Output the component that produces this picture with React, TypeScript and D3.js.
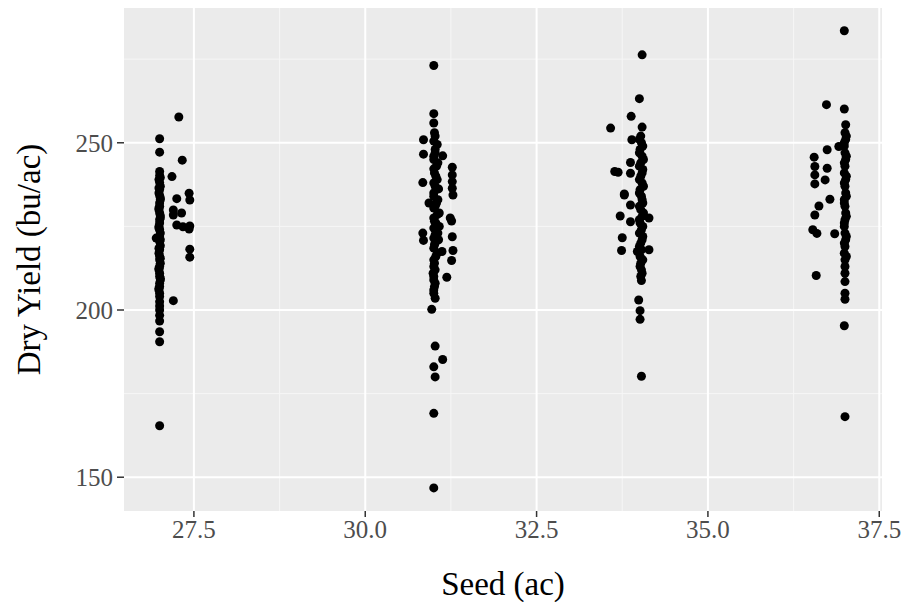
import { scaleLinear, range } from "d3";

// seed rate (x) and dry yield (y), one list per seed block
const block27: [number, number][] = [
  [27.0, 251.2], [27.0, 247.2], [27.0, 241.4], [27.0, 240.2], [26.99, 239.0],
  [27.0, 238.1], [27.01, 237.0], [27.0, 236.0], [26.99, 235.0], [27.0, 234.2],
  [27.01, 233.0], [27.0, 232.0], [27.0, 231.0], [26.99, 230.0], [27.0, 229.0],
  [27.01, 228.2], [27.0, 227.0], [27.0, 226.0], [26.99, 225.0], [27.0, 224.0],
  [27.01, 223.0], [27.0, 222.1], [26.95, 221.5], [27.0, 220.5], [27.01, 219.2],
  [27.0, 218.0], [26.99, 217.0], [27.0, 216.0], [27.0, 215.0], [27.01, 214.0],
  [27.0, 213.0], [26.99, 212.0], [27.0, 211.0], [27.0, 210.0], [27.01, 209.0],
  [27.0, 208.0], [27.0, 207.0], [26.99, 206.0], [27.0, 205.0], [27.0, 204.0],
  [27.01, 239.6], [26.99, 236.5], [27.01, 233.5], [26.99, 230.5], [27.01, 227.5],
  [26.99, 224.5], [27.01, 221.0], [26.99, 218.5], [27.01, 215.5], [26.99, 212.5],
  [27.01, 209.5], [26.99, 206.5], [27.0, 202.5], [27.0, 200.0],
  [27.0, 201.2], [27.0, 198.4], [27.0, 196.7], [27.0, 193.5], [27.0, 190.5],
  [27.0, 165.4],
  [27.28, 257.7], [27.33, 244.8], [27.18, 239.9], [27.25, 233.3], [27.43, 234.9],
  [27.44, 232.9], [27.2, 229.9], [27.32, 229.0], [27.2, 228.4], [27.25, 225.4],
  [27.34, 224.9], [27.44, 225.1], [27.43, 224.2], [27.44, 218.2], [27.44, 215.8],
  [27.2, 202.8],
];

const block31: [number, number][] = [
  [31.0, 273.1], [31.0, 258.7], [31.0, 255.9], [31.01, 253.0], [31.0, 250.5],
  [31.02, 248.0], [31.0, 246.0], [31.06, 244.0], [31.0, 242.2], [31.03, 240.0],
  [31.0, 238.0], [31.07, 236.2], [31.0, 234.0], [31.04, 232.0], [31.0, 230.5],
  [31.08, 229.0], [31.0, 227.5], [31.03, 226.0], [31.0, 224.5], [31.06, 223.0],
  [31.0, 221.5], [31.02, 220.0], [31.0, 218.5], [31.05, 217.0], [31.0, 215.0],
  [31.0, 213.0], [30.99, 211.0], [31.0, 209.0], [31.01, 207.0], [31.0, 205.0],
  [31.02, 252.0], [31.05, 249.5], [31.02, 247.0], [31.0, 245.0], [31.04, 243.0],
  [31.01, 241.0], [31.05, 239.0], [31.02, 237.0], [31.0, 235.0], [31.06, 233.0],
  [31.02, 231.0], [31.05, 228.5], [31.01, 226.5], [31.08, 225.0], [31.02, 222.5],
  [31.07, 221.0], [31.01, 219.5], [31.03, 216.0], [31.01, 214.0], [31.02, 212.0],
  [31.0, 210.0], [31.02, 208.0], [31.0, 206.0],
  [31.02, 203.5], [30.97, 200.2], [31.02, 189.2], [31.13, 185.2], [31.0, 183.0],
  [31.02, 180.0], [31.0, 169.1], [31.0, 146.8],
  [30.85, 250.9], [30.85, 246.6], [31.13, 246.1], [31.27, 242.7], [31.27, 240.4],
  [31.27, 238.4], [31.27, 236.4], [31.28, 234.4], [30.84, 238.1], [30.93, 232.0],
  [31.24, 227.5], [31.26, 226.6], [30.84, 223.0], [30.85, 220.8], [31.27, 221.9],
  [31.28, 217.8], [31.26, 214.8], [31.12, 217.5], [31.19, 209.8],
];

const block34: [number, number][] = [
  [34.04, 276.3], [34.0, 263.2], [34.04, 254.7], [34.02, 252.0], [34.03, 250.0],
  [34.01, 248.0], [34.04, 246.0], [34.02, 244.0], [34.05, 242.0], [34.02, 240.0],
  [34.04, 238.0], [34.01, 236.0], [34.03, 234.0], [34.05, 232.0], [34.02, 230.0],
  [34.04, 228.0], [34.01, 226.0], [34.03, 224.0], [34.05, 222.0], [34.02, 220.0],
  [34.03, 218.0], [34.01, 216.0], [34.02, 214.0], [34.03, 212.0], [34.02, 210.0],
  [34.0, 251.0], [34.05, 249.0], [34.0, 247.0], [34.06, 245.0], [34.0, 243.0],
  [34.04, 241.0], [34.0, 239.0], [34.06, 237.0], [34.0, 235.0], [34.04, 233.0],
  [34.0, 231.0], [34.06, 229.0], [34.0, 227.0], [34.05, 225.0], [34.0, 223.0],
  [34.04, 221.0], [34.0, 219.0], [34.05, 215.0], [34.01, 213.0], [34.04, 211.0],
  [34.03, 208.8], [33.99, 203.0], [34.01, 199.8], [34.01, 197.2], [34.03, 180.2],
  [33.88, 257.9], [33.58, 254.4], [33.89, 250.9], [33.64, 241.4], [33.69, 241.2],
  [33.87, 240.9], [33.87, 244.1], [33.78, 234.7], [33.78, 234.4], [33.87, 231.4],
  [33.72, 228.1], [34.14, 227.5], [33.87, 226.4], [33.75, 221.6], [33.74, 217.8],
  [34.14, 218.0], [33.97, 217.5],
];

const block37: [number, number][] = [
  [36.99, 283.5], [36.99, 260.1], [37.01, 255.4], [37.0, 253.0], [37.01, 251.0],
  [36.99, 249.0], [37.0, 247.0], [37.01, 245.0], [37.0, 243.0], [36.99, 241.0],
  [37.01, 239.0], [37.0, 237.0], [37.01, 235.0], [36.99, 233.0], [37.0, 231.0],
  [37.01, 229.0], [37.0, 227.0], [36.99, 225.0], [37.0, 223.0], [37.01, 221.0],
  [37.0, 219.0], [36.99, 217.0], [37.0, 215.0], [37.0, 213.0], [37.0, 211.0],
  [37.02, 252.0], [36.99, 250.0], [37.02, 246.0], [36.99, 244.0], [37.02, 240.0],
  [36.99, 238.0], [37.02, 234.0], [36.99, 232.0], [37.02, 228.0], [36.99, 226.0],
  [37.02, 222.0], [36.99, 220.0], [37.02, 216.0],
  [37.0, 208.5], [37.0, 205.0], [37.0, 203.2], [36.99, 195.3], [37.0, 168.1],
  [36.73, 261.4], [36.74, 247.9], [36.55, 245.7], [36.56, 242.9], [36.74, 242.4],
  [36.56, 240.4], [36.71, 238.9], [36.56, 237.7], [36.91, 248.9], [36.78, 233.1],
  [36.62, 231.1], [36.56, 228.4], [36.53, 224.0], [36.59, 222.9], [36.85, 222.8],
  [36.58, 210.3],
];

const xTicks = [27.5, 30.0, 32.5, 35.0, 37.5];
const yTicks = [150, 200, 250];

const allPoints = [...block27, ...block31, ...block34, ...block37];

const xValue = (d: [number, number]) => d[0];
const yValue = (d: [number, number]) => d[1];

const width = 903;
const height = 602;
const margin = { top: 8, right: 21, bottom: 91, left: 124 };
const innerWidth = width - margin.left - margin.right;
const innerHeight = height - margin.top - margin.bottom;

const font = "'Liberation Serif', 'Times New Roman', serif";

const App = () => {
  const xScale = scaleLinear().domain([26.48, 37.54]).range([0, innerWidth]);
  const yScale = scaleLinear().domain([139.9, 290.3]).range([innerHeight, 0]);

  const xMinor = range(xTicks.length - 1).map((i) => (xTicks[i] + xTicks[i + 1]) / 2);
  const yMinor = [175, 225, 275];

  return (
    <svg width={width} height={height} style={{ display: "block", position: "absolute", left: 0, top: 0 }}>
      <rect width={width} height={height} fill="white" />
      <g transform={`translate(${margin.left},${margin.top})`}>
        <rect width={innerWidth} height={innerHeight} fill="#ebebeb" />
        {xMinor.map((t) => (
          <line key={"xm" + t} x1={xScale(t)} x2={xScale(t)} y1={0} y2={innerHeight} stroke="#f6f6f6" strokeWidth={1} />
        ))}
        {yMinor.map((t) => (
          <line key={"ym" + t} x1={0} x2={innerWidth} y1={yScale(t)} y2={yScale(t)} stroke="#f6f6f6" strokeWidth={1} />
        ))}
        {xTicks.map((t) => (
          <line key={"xg" + t} x1={xScale(t)} x2={xScale(t)} y1={0} y2={innerHeight} stroke="white" strokeWidth={2} />
        ))}
        {yTicks.map((t) => (
          <line key={"yg" + t} x1={0} x2={innerWidth} y1={yScale(t)} y2={yScale(t)} stroke="white" strokeWidth={2} />
        ))}
        {allPoints.map((d, i) => (
          <circle key={i} cx={xScale(xValue(d))} cy={yScale(yValue(d))} r={4.5} fill="black" />
        ))}
        {xTicks.map((t) => (
          <g key={"xt" + t} transform={`translate(${xScale(t)},${innerHeight})`}>
            <line y1={0} y2={6} stroke="#333" strokeWidth={1.5} />
            <text y={27} textAnchor="middle" fill="#4d4d4d" fontSize={25} fontFamily={font}>
              {t.toFixed(1)}
            </text>
          </g>
        ))}
        {yTicks.map((t) => (
          <g key={"yt" + t} transform={`translate(0,${yScale(t)})`}>
            <line x1={-7} x2={0} stroke="#333" strokeWidth={1.5} />
            <text x={-11} dy="0.35em" textAnchor="end" fill="#4d4d4d" fontSize={25} fontFamily={font}>
              {t}
            </text>
          </g>
        ))}
        <text x={innerWidth / 2} y={innerHeight + 84} textAnchor="middle" fontSize={33} fontFamily={font} fill="black">
          Seed (ac)
        </text>
        <text
          transform={`translate(${-margin.left + 28},${innerHeight / 2}) rotate(-90)`}
          textAnchor="middle"
          dy="0.35em"
          fontSize={33}
          fontFamily={font}
          fill="black"
        >
          Dry Yield (bu/ac)
        </text>
      </g>
    </svg>
  );
};

export default App;
